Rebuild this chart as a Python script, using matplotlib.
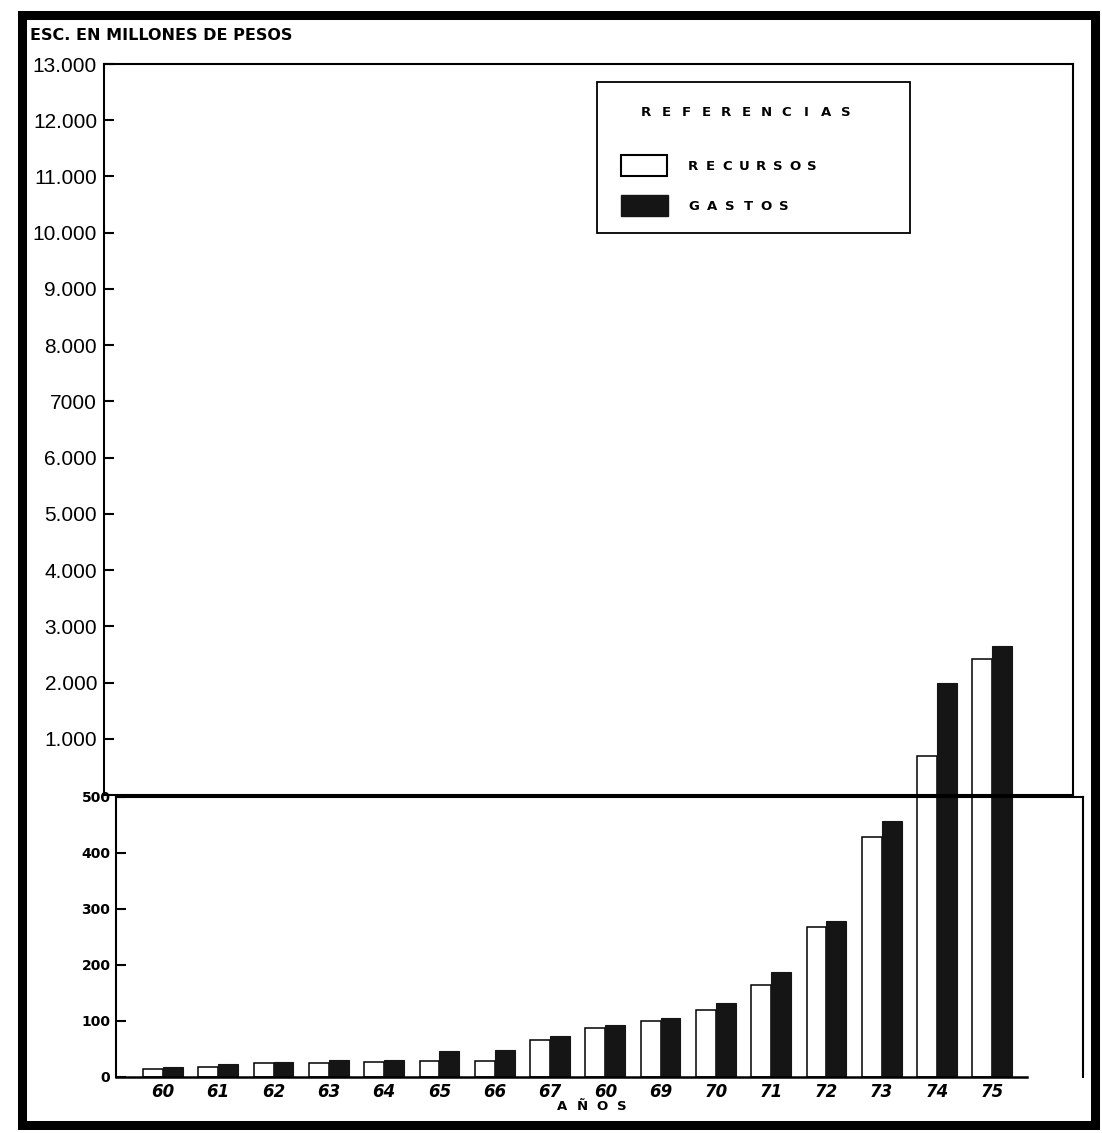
import numpy as np
import matplotlib.pyplot as plt
from matplotlib import font_manager
from matplotlib.patches import Rectangle

# data (millones de pesos)
years = ["60", "61", "62", "63", "64", "65", "66", "67", "60", "69", "70", "71", "72", "73", "74", "75"]
recursos = [14, 18, 25, 25, 27, 28, 29, 66, 87, 100, 120, 165, 267, 428, 690, 2420]
gastos = [18, 23, 27, 30, 30, 46, 49, 74, 93, 106, 133, 187, 278, 457, 1990, 2650]

upper_ticks = [1000, 2000, 3000, 4000, 5000, 6000, 7000, 8000, 9000, 10000, 11000, 12000, 13000]
upper_labels = ["1.000", "2.000", "3.000", "4.000", "5.000", "6.000", "7000",
                "8.000", "9.000", "10.000", "11.000", "12.000", "13.000"]
lower_ticks = [0, 100, 200, 300, 400, 500]
lower_labels = ["0", "100", "200", "300", "400", "500"]
BREAK = 500

W, H = 1102, 1133
fig = plt.figure(figsize=(W / 100, H / 100), dpi=100)


def fx(px):
    return px / W


def fy(py):
    return 1 - py / H


# narrower font for the big scale numbers
installed = {f.name for f in font_manager.fontManager.ttflist}
if "Liberation Sans Narrow" in installed:
    big_font, big_size = "Liberation Sans Narrow", 17
elif "Liberation Sans" in installed:
    big_font, big_size = "Liberation Sans", 15
else:
    big_font, big_size = "DejaVu Sans", 13

x = np.arange(len(years))
w = 0.36
rec = np.array(recursos, dtype=float)
gas = np.array(gastos, dtype=float)
GAS_COLOR = "#151515"

# upper panel: 0 - 13.000
ax_up = fig.add_axes([fx(104), fy(795), fx(1073) - fx(104), fy(64) - fy(795)])
ax_up.set_xlim(-1.07, 16.46)
ax_up.set_ylim(0, 13000)
ir = np.flatnonzero(rec > BREAK)
ig = np.flatnonzero(gas > BREAK)
ax_up.bar(x[ir] - w / 2, rec[ir], width=w, color="white", edgecolor="black", linewidth=1.1)
ax_up.bar(x[ig] + w / 2, gas[ig], width=w, color=GAS_COLOR, edgecolor=GAS_COLOR, linewidth=0.8)
ax_up.set_yticks(upper_ticks)
ax_up.set_yticklabels(upper_labels, fontfamily=big_font, fontsize=big_size)
ax_up.set_xticks([])
ax_up.tick_params(axis="y", direction="in", length=7, width=1.5, pad=5)
for s in ax_up.spines.values():
    s.set_linewidth(1.5)

# lower panel: 0 - 500
ax_lo = fig.add_axes([fx(116), fy(1077), fx(1083) - fx(116), fy(797) - fy(1077)])
ax_lo.set_xlim(-0.85, 16.64)
ax_lo.set_ylim(0, BREAK)
ax_lo.bar(x - w / 2, rec, width=w, color="white", edgecolor="black", linewidth=1.1)
ax_lo.bar(x + w / 2, gas, width=w, color=GAS_COLOR, edgecolor=GAS_COLOR, linewidth=0.8)
ax_lo.set_yticks(lower_ticks)
ax_lo.set_yticklabels(lower_labels, fontsize=10, fontweight="bold")
ax_lo.tick_params(axis="y", direction="in", length=7, width=1.5, pad=4)
ax_lo.set_xticks(x)
ax_lo.set_xticklabels(years, fontsize=12, fontstyle="italic", fontweight="bold")
ax_lo.tick_params(axis="x", length=0, pad=4)
ax_lo.spines["bottom"].set_visible(False)
for side in ["left", "right", "top"]:
    ax_lo.spines[side].set_linewidth(1.5)
# base line stops short of the right border
ax_lo.axhline(0, xmin=0, xmax=(15.62 + 0.85) / (16.64 + 0.85), color="black", linewidth=1.8, clip_on=False)

# texts
fig.text(fx(30), fy(35), "ESC. EN MILLONES DE PESOS", ha="left", va="center",
         fontsize=11.5, fontweight="bold")


def spaced(x0, y, s, step, **kw):
    for k, ch in enumerate(s):
        fig.text(fx(x0 + k * step), fy(y), ch, ha="center", va="center", **kw)


spaced(562, 1107, "AÑOS", 20, fontsize=9.5, fontweight="bold")

# legend box
fig.add_artist(Rectangle((fx(597), fy(233)), fx(910) - fx(597), fy(82) - fy(233),
                         transform=fig.transFigure, facecolor="white", edgecolor="black", linewidth=1.3))
spaced(646, 113, "REFERENCIAS", 20, fontsize=9.5, fontweight="bold")
fig.add_artist(Rectangle((fx(621), fy(176)), fx(667) - fx(621), fy(155) - fy(176),
                         transform=fig.transFigure, facecolor="white", edgecolor="black", linewidth=1.5))
spaced(693, 167, "RECURSOS", 17, fontsize=9.5, fontweight="bold")
fig.add_artist(Rectangle((fx(621), fy(216)), fx(668) - fx(621), fy(195) - fy(216),
                         transform=fig.transFigure, facecolor=GAS_COLOR, edgecolor=GAS_COLOR, linewidth=1.0))
spaced(694, 207, "GASTOS", 18, fontsize=9.5, fontweight="bold")

# thick outer frame of the original sheet
fig.add_artist(Rectangle((fx(22), fy(1125)), fx(1095) - fx(22), fy(15) - fy(1125),
                         transform=fig.transFigure, fill=False, edgecolor="black", linewidth=6.5))

fig.savefig("out.png", dpi=100, facecolor="white")
